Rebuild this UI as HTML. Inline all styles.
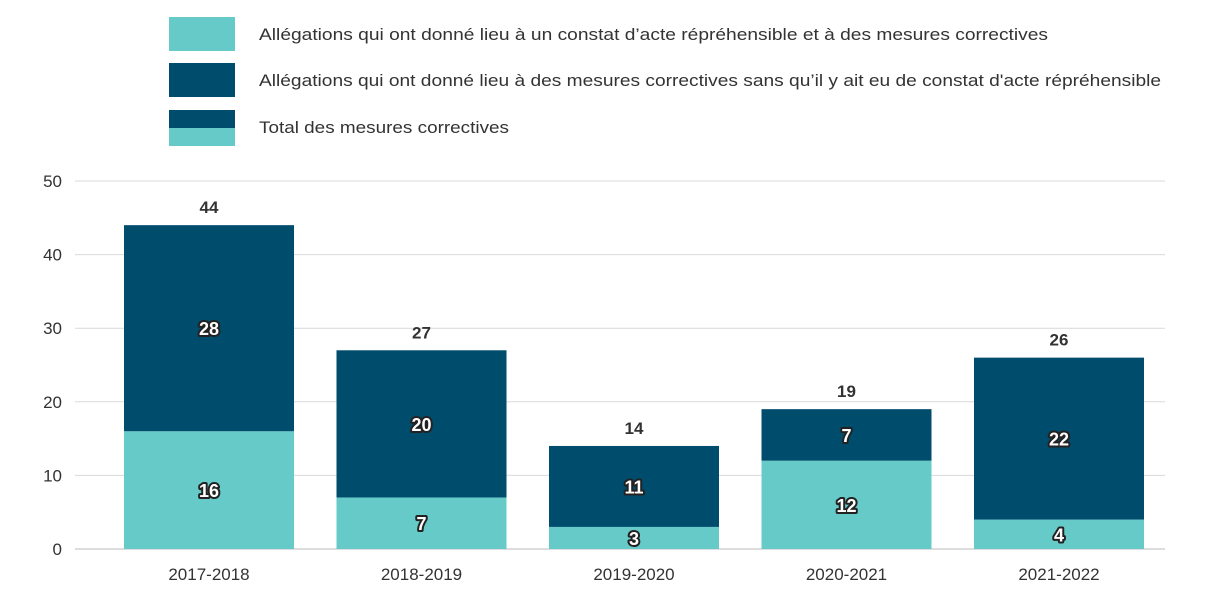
<!DOCTYPE html>
<html><head><meta charset="utf-8"><style>
body{margin:0;background:#fff;}
svg{display:block;font-family:"Liberation Sans",sans-serif;}
</style></head><body>
<svg id="chart" width="1224" height="595">
<g>
 <rect x="169" y="17" width="66" height="34" fill="#66CBC8"/>
 <text x="259" y="40" font-size="17" fill="#333" textLength="789" lengthAdjust="spacingAndGlyphs">Allégations qui ont donné lieu à un constat d’acte répréhensible et à des mesures correctives</text>
 <rect x="169" y="63" width="66" height="34" fill="#004C6D"/>
 <text x="259" y="86" font-size="17" fill="#333" textLength="902" lengthAdjust="spacingAndGlyphs">Allégations qui ont donné lieu à des mesures correctives sans qu’il y ait eu de constat d'acte répréhensible</text>
 <rect x="169" y="110" width="66" height="18" fill="#004C6D"/>
 <rect x="169" y="128" width="66" height="18" fill="#66CBC8"/>
 <text x="259" y="133" font-size="17" fill="#333" textLength="250" lengthAdjust="spacingAndGlyphs">Total des mesures correctives</text>
</g>
<g id="grid"></g><g id="bars"></g><g id="labels"></g>
</svg>
<script>
const categories=["2017-2018","2018-2019","2019-2020","2020-2021","2021-2022"];
const findingValues=[16,7,3,12,4];
const noFindingValues=[28,20,11,7,22];
const yTicks=[0,10,20,30,40,50];
const NS="http://www.w3.org/2000/svg";
const y0=549,yTop=181,yMax=50,x0=102.75,band=212.5,barW=170;
const y=v=>y0-(v/yMax)*(y0-yTop);
const xc=i=>x0+band*(i+0.5);
function mk(tag,attrs,parent,text){const e=document.createElementNS(NS,tag);for(const k in attrs)e.setAttribute(k,attrs[k]);if(text!==undefined)e.textContent=text;parent.appendChild(e);return e;}
const grid=document.getElementById('grid'),bars=document.getElementById('bars'),labels=document.getElementById('labels');
yTicks.forEach(t=>{
 const l=mk('line',{x1:75,x2:1165,y1:y(t),y2:y(t),stroke:t===0?'#bbb':'#d9d9d9','stroke-width':1},grid);
 
 
 const tx=mk('text',{x:62,y:y(t)+6,'text-anchor':'end','font-size':17,fill:'#333'},grid,t);
 
 
});
categories.forEach((c,i)=>{
 const a=findingValues[i],b=noFindingValues[i],tot=a+b,x=xc(i)-barW/2;
 const r1=mk('rect',{x:x,y:y(a),width:barW,height:y(0)-y(a),fill:'#66CBC8'},bars);
 
 
 const r2=mk('rect',{x:x,y:y(tot),width:barW,height:y(a)-y(tot),fill:'#004C6D'},bars);
 
 
 const st={'text-anchor':'middle','font-size':18,'font-weight':'bold',fill:'#fff',stroke:'#222','stroke-width':4,'stroke-linejoin':'round','paint-order':'stroke'};
 const l1=mk('text',Object.assign({x:xc(i),y:(y(0)+y(a))/2+7},st),labels,a);
 
 
 const l2=mk('text',Object.assign({x:xc(i),y:(y(a)+y(tot))/2+7},st),labels,b);
 
 
 const t=mk('text',{x:xc(i),y:y(tot)-12,'text-anchor':'middle','font-size':17,'font-weight':'bold',fill:'#333'},labels,tot);
 
 
 const xl=mk('text',{x:xc(i),y:580,'text-anchor':'middle','font-size':17,fill:'#333'},labels,c);
 
 
});
</script>
</body></html>
